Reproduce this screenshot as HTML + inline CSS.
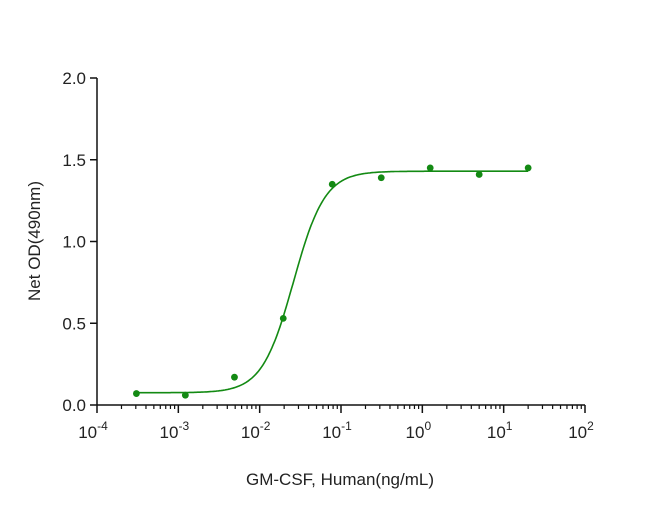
<!DOCTYPE html>
<html><head><meta charset="utf-8"><style>
body{margin:0;background:#fff;}
text{font-family:"Liberation Sans",Arial,sans-serif;fill:#222;}
</style></head><body>
<svg id="chart" width="650" height="512" xmlns="http://www.w3.org/2000/svg">
<g id="axes"></g>
<g id="series"></g>
<text x="340" y="485" font-size="17" text-anchor="middle">GM-CSF, Human(ng/mL)</text>
<text transform="translate(40,241) rotate(-90)" font-size="17" text-anchor="middle">Net OD(490nm)</text>
</svg>
<script>
const concentrations=[0.000305,0.00122,0.0049,0.0195,0.078,0.3125,1.25,5,20];
const odValues=[0.07,0.06,0.17,0.53,1.35,1.39,1.45,1.41,1.45];
const yTicks=[0,0.5,1.0,1.5,2.0];
const yTickLabels=["0.0","0.5","1.0","1.5","2.0"];
const xExponents=[-4,-3,-2,-1,0,1,2];
const fitParams=[0.075,1.43,0.026,2.25]; // bottom, top, EC50, hill

const NS="http://www.w3.org/2000/svg";
const X0=97,X1=585,Y0=405,Y1=78;
const xs=v=>X0+(Math.log10(v)+4)/6*(X1-X0);
const ys=v=>Y0-v/2*(Y0-Y1);
function mk(tag,attrs,parent){const e=document.createElementNS(NS,tag);for(const k in attrs)e.setAttribute(k,attrs[k]);parent.appendChild(e);return e;}
const axes=document.getElementById('axes'),series=document.getElementById('series');
let l=mk('line',{x1:X0,y1:Y0,x2:X1,y2:Y0,stroke:'#111','stroke-width':1.5},axes);


l=mk('line',{x1:X0,y1:Y0,x2:X0,y2:Y1,stroke:'#111','stroke-width':1.5},axes);


yTicks.forEach((v,i)=>{
 mk('line',{x1:X0-7,y1:ys(v),x2:X0,y2:ys(v),stroke:'#111','stroke-width':1.5},axes);
 const t=mk('text',{x:X0-11,y:ys(v)+6,'font-size':17,'text-anchor':'end'},axes);
 t.textContent=yTickLabels[i];
 
 
});
xExponents.forEach((e,i)=>{
 const x=xs(Math.pow(10,e));
 mk('line',{x1:x,y1:Y0,x2:x,y2:Y0+8,stroke:'#111','stroke-width':1.5},axes);
 if(i<xExponents.length-1){for(let m=2;m<10;m++){const xm=xs(m*Math.pow(10,e));mk('line',{x1:xm,y1:Y0,x2:xm,y2:Y0+4,stroke:'#111','stroke-width':1.2},axes);}}
 const t=mk('text',{x:x-4,y:Y0+33,'font-size':17,'text-anchor':'middle'},axes);
 t.textContent='10';
 const s=mk('tspan',{dy:-8,'font-size':12},t);
 s.textContent=String(e);
 
 
});
const [b,tp,ec,h]=fitParams;
let d='';
for(let k=0;k<=300;k++){const lv=-3.52+k*(1.30+3.52)/300;const v=Math.pow(10,lv);const y=b+(tp-b)/(1+Math.pow(ec/v,h));d+=(k?'L':'M')+xs(v).toFixed(1)+','+ys(y).toFixed(1);}
const p=mk('path',{d:d,fill:'none',stroke:'#138a13','stroke-width':1.6},series);


concentrations.forEach((c,i)=>{
 const pt=mk('circle',{cx:xs(c),cy:ys(odValues[i]),r:3.4,fill:'#138a13'},series);
 
 
});
</script>
</body></html>
